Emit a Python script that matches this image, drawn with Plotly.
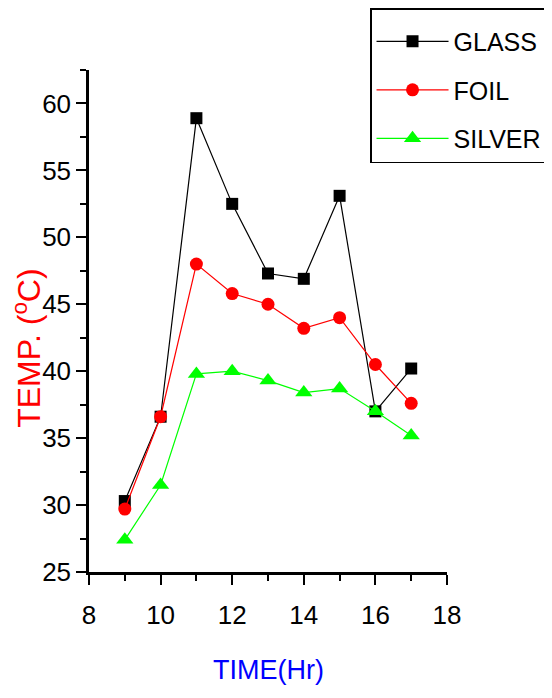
import plotly.graph_objects as go

hours = [9, 10, 11, 12, 13, 14, 15, 16, 17]
glass = [30.3, 36.6, 58.9, 52.5, 47.3, 46.9, 53.1, 37.0, 40.2]
foil = [29.7, 36.6, 48.0, 45.8, 45.0, 43.2, 44.0, 40.5, 37.6]
silver = [27.4, 31.5, 39.8, 40.0, 39.3, 38.4, 38.7, 37.0, 35.2]

SANS = "Liberation Sans, Arial, sans-serif"

fig = go.Figure()
series = [
    ("GLASS", glass, "black", "square", 12),
    ("FOIL", foil, "red", "circle", 13),
    ("SILVER", silver, "#00ff00", "triangle-up", 15),
]
for name, vals, col, sym, sz in series:
    fig.add_trace(go.Scatter(
        x=hours, y=vals, name=name, mode="lines+markers",
        line=dict(color=col, width=1.2),
        marker=dict(color=col, symbol=sym, size=sz),
        legendgroup=name,
    ))

axis_common = dict(
    showline=True, linecolor="black", linewidth=2.5,
    ticks="outside", ticklen=10, tickwidth=2, tickcolor="black",
    showgrid=False, zeroline=False,
    tickfont=dict(family=SANS, size=26, color="black"),
)

fig.update_xaxes(range=[8, 18], dtick=2, tick0=8, ticklabelstandoff=8,
                 minor=dict(ticks="outside", ticklen=6, tickwidth=2, dtick=1, tickcolor="black"),
                 **axis_common)
fig.update_yaxes(range=[25, 62.5], dtick=5, tick0=25,
                 minor=dict(ticks="outside", ticklen=6, tickwidth=2, dtick=2.5, tickcolor="black"),
                 **axis_common)

fig.add_annotation(text="TEMP. (<sup>o</sup>C)", xref="paper", yref="paper",
                   x=-0.174, y=0.446, xanchor="center", yanchor="middle",
                   textangle=-90, showarrow=False,
                   font=dict(family=SANS, size=32, color="red"))
fig.add_annotation(text="TIME(Hr)", xref="paper", yref="paper",
                   x=0.5, y=-0.195, xanchor="center", yanchor="middle",
                   showarrow=False,
                   font=dict(family=SANS, size=27, color="blue"))

fig.update_layout(
    width=552, height=698,
    margin=dict(l=81, r=113, t=62, b=134, autoexpand=False),
    paper_bgcolor="white", plot_bgcolor="white",
    showlegend=True,
    legend=dict(x=0.785, y=1.1235, xanchor="left", yanchor="top",
                bordercolor="black", borderwidth=1.5, bgcolor="white",
                font=dict(family=SANS, size=25, color="black"),
                title=dict(text=" ", font=dict(size=7)),
                itemwidth=72, tracegroupgap=13, traceorder="grouped"),
)

fig.write_html("out.html")
